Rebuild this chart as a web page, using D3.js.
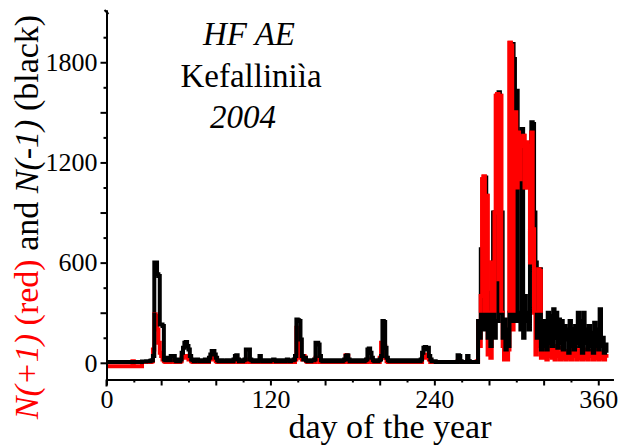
<!DOCTYPE html>
<html>
<head>
<meta charset="utf-8">
<script src="https://cdn.jsdelivr.net/npm/d3@7"></script>
<style>
  body { margin: 0; background: #fff; }
  text { font-family: "Liberation Serif", "Times New Roman", serif; }
</style>
</head>
<body>
<div id="chart"></div>
<script>
//daily counts, index = day of the year
var blackSeries = [
  5,5,5,5,5,5,5,5,5,5,5,5,5,5,5,5,5,5,5,5,
  5,5,5,5,5,5,8,8,8,10,10,10,12,15,40,600,600,530,520,230,
  230,220,20,15,30,20,15,40,40,40,15,10,20,10,20,60,90,120,125,100,
  80,40,20,15,10,15,20,15,10,10,15,10,20,15,10,30,50,70,70,50,
  30,15,10,10,15,10,10,10,15,10,10,15,10,20,40,45,20,10,15,10,
  15,20,80,80,80,20,15,10,15,15,10,15,40,15,10,10,15,15,10,10,
  15,15,20,15,10,15,15,10,15,15,10,15,20,15,10,15,15,20,40,260,
  255,250,140,40,20,30,15,10,15,10,15,15,20,120,120,110,40,15,10,15,
  10,15,10,15,15,10,10,15,10,15,10,15,10,15,20,40,45,20,10,15,
  10,15,10,10,15,10,15,10,10,15,20,80,85,60,30,15,10,15,10,15,
  20,40,250,245,90,30,15,10,15,10,15,10,10,15,10,10,15,10,10,15,
  10,10,15,10,10,15,10,10,15,10,20,60,90,95,80,90,40,20,10,10,
  10,5,5,5,5,5,5,5,5,5,5,5,5,5,5,5,5,45,40,10,
  5,5,5,5,40,10,5,5,5,5,5,5,250,150,680,200,300,1110,200,150,
  420,100,400,900,150,250,250,1620,300,900,150,260,80,200,100,300,250,1910,1820,250,
  1630,250,300,200,1400,150,400,250,300,200,800,1440,1430,900,600,150,300,560,80,250,
  100,250,80,300,120,280,100,320,150,300,90,260,120,250,80,220,140,200,60,250,
  100,200,80,220,120,300,100,250,60,300,120,200,80,220,100,180,60,240,100,200,
  80,320,100,150,60,110,60
];

var redSeries = [
  -20,-20,-20,-20,-20,-20,-20,-20,-20,-20,-20,-20,-20,-20,-20,-20,-20,-20,-20,10,
  -20,-20,-20,-20,-20,-20,5,5,5,5,5,5,5,10,80,290,280,200,120,60,
  40,20,10,5,10,5,5,10,15,10,5,5,5,5,10,30,40,40,40,30,
  20,20,10,5,5,5,10,5,5,5,5,5,10,5,5,20,30,30,30,20,
  10,5,5,5,5,5,5,5,5,5,5,5,5,10,20,20,5,5,5,5,
  5,5,20,20,10,5,5,5,5,5,5,5,10,5,5,5,5,5,5,5,
  5,5,5,5,5,5,5,5,5,5,5,5,5,5,5,5,5,5,20,210,
  200,60,30,20,40,30,10,5,5,5,5,5,5,30,30,20,5,5,5,5,
  5,5,5,5,5,5,5,5,5,5,5,5,5,5,10,45,40,5,5,5,
  5,5,5,5,5,5,5,5,5,5,5,20,20,10,5,5,5,5,5,5,
  30,120,120,100,30,10,5,5,5,5,5,5,5,5,5,5,5,5,5,5,
  5,5,5,5,5,5,5,5,5,5,5,30,40,50,30,40,20,5,5,5,
  5,5,5,5,5,5,5,5,5,5,5,5,5,5,5,5,5,10,10,5,
  5,5,5,5,10,5,5,5,5,5,5,10,250,100,400,1100,1116,300,1000,50,
  300,30,600,200,900,1600,1610,500,1600,300,100,20,150,20,80,1917,1900,200,1300,1500,
  1050,1380,1100,1350,1300,1360,1050,1320,1100,1300,600,1380,800,300,50,100,560,550,30,150,
  30,80,20,100,40,150,30,100,20,80,40,60,20,90,30,70,20,60,30,80,
  20,60,40,90,20,70,30,100,20,60,30,80,20,60,40,70,20,50,30,80,
  20,60,30,50,20,40,30
];

var xTicksLabeled = [0, 120, 240, 360];
var yTicksLabeled = [0, 600, 1200, 1800];
var xMajor = d3.range(0, 361, 40);
var xMinor = d3.range(20, 361, 40);
var yMajor = d3.range(0, 2001, 300);
var yMinor = d3.range(150, 2001, 300);

function main()
{
    var width = 619, height = 445;

    var svg = d3.select("#chart")
        .append("svg")
        .attr("width", width)
        .attr("height", height);

    //scales, pixel positions
    var x = d3.scaleLinear().domain([0, 371]).range([106.5, 613.3]);
    var y = d3.scaleLinear().domain([-100, 2113]).range([379.5, 10]);

    var line = d3.line()
        .curve(d3.curveStepAfter)
        .x(function(d, i) { return x(i); })
        .y(function(d) { return y(d); });

    //in the original the tall red bursts sit over the black, low parts under it
    svg.append("clipPath")
        .attr("id", "upper")
        .append("rect")
        .attr("x", 0).attr("y", 0)
        .attr("width", width).attr("height", y(300));

    svg.append("path")
        .datum(redSeries)
        .attr("fill", "none")
        .attr("stroke", "#ff0000")
        .attr("stroke-width", 4)
        .attr("d", line);

    svg.append("path")
        .datum(blackSeries)
        .attr("fill", "none")
        .attr("stroke", "#000")
        .attr("stroke-width", 4)
        .attr("d", line);

    svg.append("path")
        .datum(redSeries)
        .attr("clip-path", "url(#upper)")
        .attr("fill", "none")
        .attr("stroke", "#ff0000")
        .attr("stroke-width", 4)
        .attr("d", line);

    //x axis
    var xAxisG = svg.append("g").attr("transform", "translate(0," + y(-100) + ")");
    xAxisG.call(d3.axisBottom(x).tickValues(xMinor).tickSize(3).tickSizeOuter(0).tickFormat(""));
    xAxisG.append("g").call(d3.axisBottom(x).tickValues(xMajor).tickSize(6).tickSizeOuter(0).tickPadding(4)
        .tickFormat(function(d) { return xTicksLabeled.indexOf(d) >= 0 ? d : ""; }));

    //y axis, its line runs a little below the x axis
    var yAxisG = svg.append("g").attr("transform", "translate(" + x(0) + ",0)");
    yAxisG.call(d3.axisLeft(y).tickValues(yMinor).tickSize(3).tickSizeOuter(0).tickFormat(""));
    yAxisG.append("g").call(d3.axisLeft(y).tickValues(yMajor).tickSize(6).tickSizeOuter(0).tickPadding(3)
        .tickFormat(function(d) { return yTicksLabeled.indexOf(d) >= 0 ? d : ""; }));
    yAxisG.append("line")
        .attr("y1", y(-100)).attr("y2", y(-100) + 7)
        .attr("stroke", "#000").attr("stroke-width", 2);
    yAxisG.append("line")
        .attr("x1", -2).attr("x2", 2)
        .attr("y1", y(2113)).attr("y2", y(2113) + 4)
        .attr("stroke", "#000").attr("stroke-width", 2);

    svg.selectAll(".domain").attr("stroke-width", 2);
    svg.selectAll(".tick line").attr("stroke-width", 2);
    svg.selectAll(".tick text")
        .style("font-family", "'Liberation Serif', serif")
        .style("font-size", "26px")
        .attr("fill", "#000");

    //axis titles
    svg.append("text")
        .attr("x", 390)
        .attr("y", 438)
        .attr("text-anchor", "middle")
        .style("font-size", "34px")
        .text("day of the year");

    var ylab = svg.append("text")
        .attr("transform", "translate(38,217) rotate(-90)")
        .attr("text-anchor", "middle")
        .style("font-size", "34px");
    ylab.append("tspan").attr("fill", "#ff0000").style("font-style", "italic").text("N(+1)");
    ylab.append("tspan").attr("fill", "#ff0000").text(" (red) ");
    ylab.append("tspan").attr("fill", "#000").text("and ");
    ylab.append("tspan").attr("fill", "#000").style("font-style", "italic").text("N(-1)");
    ylab.append("tspan").attr("fill", "#000").text(" (black)");

    //station caption
    svg.append("text").attr("x", 249).attr("y", 45).attr("text-anchor", "middle")
        .style("font-size", "33px").style("font-style", "italic").text("HF AE");
    svg.append("text").attr("x", 251).attr("y", 87).attr("text-anchor", "middle")
        .style("font-size", "33px").text("Kefalliniìa");
    svg.append("text").attr("x", 243).attr("y", 128).attr("text-anchor", "middle")
        .style("font-size", "33px").style("font-style", "italic").text("2004");
}
main();
</script>
</body>
</html>
